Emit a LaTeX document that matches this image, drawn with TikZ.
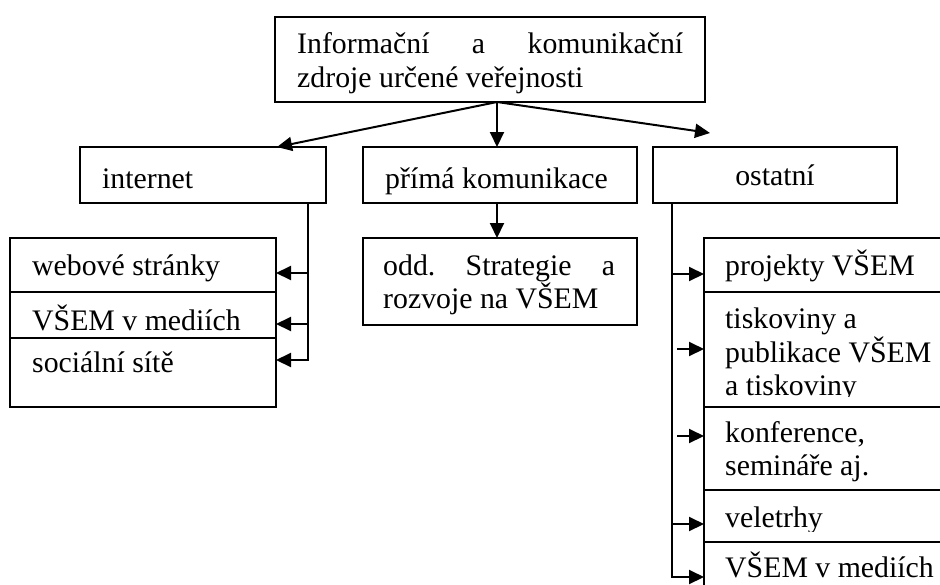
\documentclass[tikz,border=0pt]{standalone}
\usepackage{fontspec}
\setmainfont{Liberation Serif}
\usetikzlibrary{arrows.meta}
\begin{document}
\begin{tikzpicture}[x=1pt,y=-1pt,
  box/.style={draw, line width=1.5pt, fill=white, inner sep=0pt, outer sep=0pt, anchor=north west},
  txt/.style={anchor=base west, inner sep=0pt, font=\fontsize{29.8}{34}\selectfont},
  ctxt/.style={anchor=base, inner sep=0pt, font=\fontsize{29.8}{34}\selectfont},
  arr/.style={line width=2pt, -{Triangle[length=15pt,width=14pt]}}]
\clip (0,0) rectangle (940,584);
\fill[white] (0,0) rectangle (940,584);
% top box
\node[box, minimum width=430pt, minimum height=85pt] (top) at (275,17) {};
\node[txt] (top1) at (297,53) {\makebox[386pt][s]{Informační\hfill a\hfill komunikační}};
\node[txt] (top2) at (297,87) {zdroje určené veřejnosti};
% second row
\node[box, minimum width=246pt, minimum height=56pt] (internet) at (80,147) {};
\node[txt] (internetT) at (102,188) {internet};
\node[box, minimum width=274pt, minimum height=56pt] (prima) at (363,147) {};
\node[txt] (primaT) at (385,188) {přímá komunikace};
\node[box, minimum width=244pt, minimum height=56pt] (ostatni) at (653,147) {};
\node[ctxt] (ostatniT) at (775,185) {ostatní};
% left list
\node[box, minimum width=266pt, minimum height=54pt] (web) at (10,238) {};
\node[txt] (webT) at (32,275) {webové stránky};
\node[box, minimum width=266pt, minimum height=46pt] (med) at (10,292) {};
\begin{scope}
  \clip (med.north west) rectangle ([yshift=8pt]med.south east);
  \node[txt] (medT) at (32,330) {VŠEM v mediích};
\end{scope}
\node[box, minimum width=266pt, minimum height=69pt] (soc) at (10,338) {};
\node[txt] (socT) at (32,372) {sociální sítě};
% middle
\node[box, minimum width=274pt, minimum height=87pt] (odd) at (363,238) {};
\node[txt] (odd1) at (383,275) {\makebox[232pt][s]{odd.\hfill Strategie\hfill a}};
\node[txt] (odd2) at (383,308) {rozvoje na VŠEM};
% right list
\node[box, minimum width=246pt, minimum height=54pt] (r1) at (704,238) {};
\node[txt] (r1T) at (725,275) {projekty VŠEM};
\node[box, minimum width=246pt, minimum height=115pt] (r2) at (704,292) {};
\begin{scope}
  \clip (r2.north west) rectangle ([yshift=11pt]r2.south east);
  \node[txt] (r2a) at (725,328) {tiskoviny a};
  \node[txt] (r2b) at (725,362) {publikace VŠEM};
  \node[txt] (r2c) at (725,395) {a tiskoviny};
\end{scope}
\node[box, minimum width=246pt, minimum height=83pt] (r3) at (704,407) {};
\node[txt] (r3a) at (725,442) {konference,};
\node[txt] (r3b) at (725,475) {semináře aj.};
\node[box, minimum width=246pt, minimum height=52pt] (r4) at (704,490) {};
\begin{scope}
  \clip (r4.north west) rectangle ([yshift=11pt]r4.south east);
  \node[txt] (r4T) at (725,527) {veletrhy};
\end{scope}
\node[box, minimum width=246pt, minimum height=60pt] (r5) at (704,542) {};
\node[txt] (r5T) at (725,577) {VŠEM v mediích};
% connectors from top
\coordinate (src) at ([xshift=7pt]top.south);
\draw[arr] (src) -- ([xshift=-49pt]internet.north east);
\draw[arr] (src) -- (src |- prima.north);
\draw[arr] (src) -- ([shift={(57pt,14pt)}]ostatni.north west);
% internet connectors
\coordinate (ia) at ([xshift=-18pt]internet.south east);
\coordinate (wa) at ([yshift=-35pt]web.north east);
\coordinate (ma) at ([yshift=-32pt]med.north east);
\coordinate (sa) at ([yshift=-22pt]soc.north east);
\draw[arr] (ia) |- (sa);
\draw[arr] (wa -| ia) -- (wa);
\draw[arr] (ma -| ia) -- (ma);
% middle connector
\draw[arr] (src |- prima.south) -- (src |- odd.north);
% right connectors
\coordinate (oa) at ([xshift=19pt]ostatni.south west);
\coordinate (ob) at ([xshift=24pt]ostatni.south west);
\coordinate (pa) at ([yshift=-36pt]r1.north west);
\coordinate (ta) at ([yshift=-57pt]r2.north west);
\coordinate (ka) at ([yshift=-29pt]r3.north west);
\coordinate (va) at ([yshift=-34pt]r4.north west);
\coordinate (ea) at ([yshift=-35pt]r5.north west);
\draw[arr] (oa) |- (ea);
\draw[arr] (pa -| oa) -- (pa);
\draw[arr] (ta -| ob) -- (ta);
\draw[arr] (ka -| ob) -- (ka);
\draw[arr] (va -| oa) -- (va);
\end{tikzpicture}
\end{document}
